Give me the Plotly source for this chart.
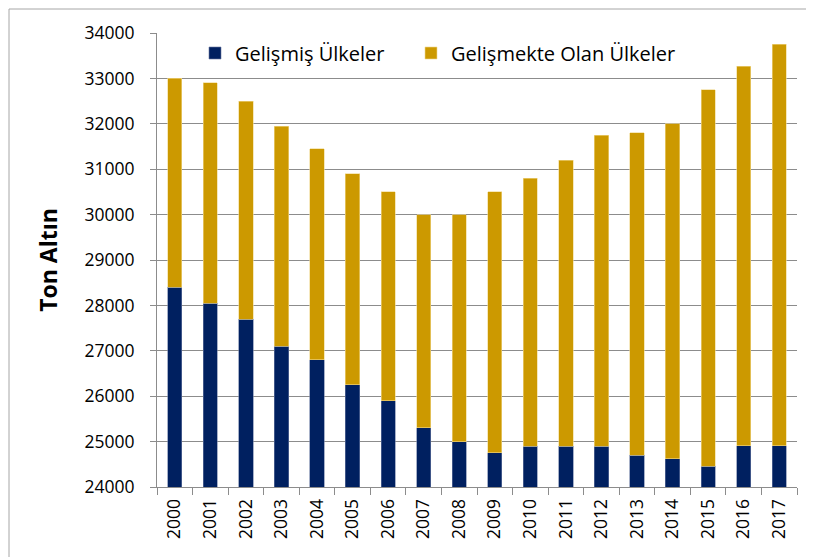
import plotly.graph_objects as go

years = [str(y) for y in range(2000, 2018)]
developed = [28400, 28050, 27700, 27100, 26800, 26250, 25900, 25300, 25000,
             24750, 24900, 24900, 24900, 24700, 24620, 24460, 24910, 24910]
total = [33000, 32900, 32500, 31950, 31450, 30900, 30500, 30000, 30000,
         30500, 30800, 31200, 31750, 31800, 32000, 32750, 33270, 33750]
developing = [t - d for t, d in zip(total, developed)]

y_ticks = list(range(24000, 34001, 1000))

FONT = "Open Sans"
W, H = 806, 549
L, R, T, B = 149, 17, 25, 70
PW, PH = W - L - R, H - T - B  # 640 x 454
OX, OY = 8, 8  # page offset of the figure


def px_x(px):
    return (px - OX - L) / PW


def px_y(py):
    return (OY + T + PH - py) / PH


fig = go.Figure()
fig.add_trace(go.Bar(
    x=years, y=developed, name="Gelişmiş Ülkeler", legend="legend",
    marker=dict(color="#002060", line=dict(color="#6b7ba3", width=0.6)),
))
fig.add_trace(go.Bar(
    x=years, y=developing, name="Gelişmekte Olan Ülkeler", legend="legend2",
    marker=dict(color="#CC9900", line=dict(color="#f0d890", width=0.6)),
))

leg_common = dict(
    orientation="h", xanchor="left", yanchor="middle",
    font=dict(family=FONT, size=20, color="#000000"),
    bgcolor="rgba(0,0,0,0)",
)

fig.update_layout(
    barmode="stack",
    bargap=0.6,
    width=W, height=H,
    margin=dict(l=L, r=R, t=T, b=B),
    paper_bgcolor="white",
    plot_bgcolor="white",
    font=dict(family=FONT, color="#000000", size=18),
    showlegend=True,
    legend=dict(x=px_x(195), y=px_y(53), **leg_common),
    legend2=dict(x=px_x(411), y=px_y(53), **leg_common),
    xaxis=dict(
        type="category",
        tickangle=-90,
        tickson="boundaries",
        ticks="outside", ticklen=7, tickcolor="#8c8c8c", tickwidth=1,
        ticklabelstandoff=4,
        showline=True, linecolor="#8c8c8c", linewidth=1,
        showgrid=False,
        tickfont=dict(family=FONT, size=17.5, color="#000000"),
    ),
    yaxis=dict(
        range=[24000, 34000],
        tickvals=y_ticks,
        ticktext=[str(v) for v in y_ticks],
        ticks="outside", ticklen=6, tickcolor="#8c8c8c", tickwidth=1,
        ticklabelstandoff=12,
        showline=True, linecolor="#8c8c8c", linewidth=1,
        showgrid=True, gridcolor="#8c8c8c", gridwidth=1,
        zeroline=False,
        tickfont=dict(family=FONT, size=17.5, color="#000000"),
        title=dict(text="<b>Ton Altın</b>", font=dict(family=FONT, size=23, color="#000000"), standoff=20),
    ),
    shapes=[dict(type="rect", xref="paper", yref="paper",
                 x0=px_x(9), x1=px_x(808), y0=px_y(580), y1=px_y(9),
                 line=dict(color="#a6a6a6", width=1), fillcolor="rgba(0,0,0,0)", layer="below")],
)

fig.write_html("out.html")
